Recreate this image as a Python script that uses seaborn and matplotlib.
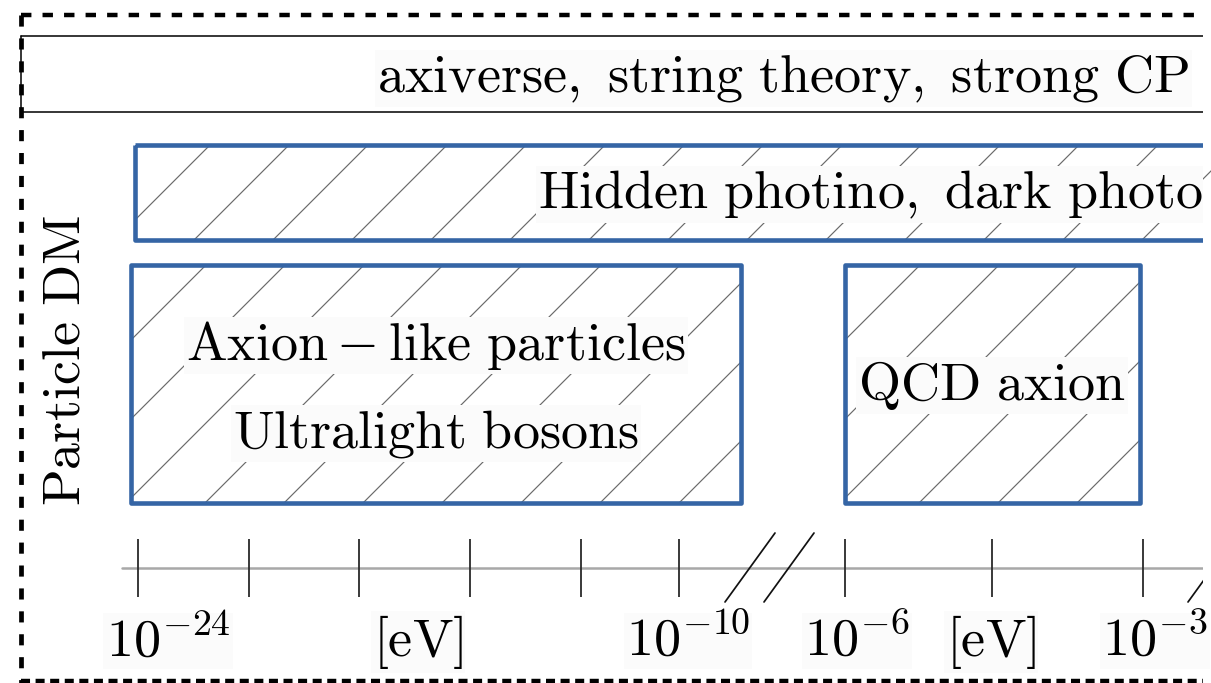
import matplotlib
matplotlib.use("Agg")
import matplotlib.pyplot as plt
from matplotlib.patches import Rectangle
import pandas as pd
import seaborn as sns

# ---- content ---------------------------------------------------------------
header_text = "axiverse, string theory, strong CP"
side_label = "Particle DM"
band_label = "Hidden photino, dark photon"
alp_lines = ["Axion-like particles", "Ultralight bosons"]
qcd_label = "QCD axion"
scale_labels = ["10^{-24}", "[\\mathrm{eV}]", "10^{-10}", "10^{-6}", "[\\mathrm{eV}]", "10^{-3}"]

# ---- layout in canvas pixels ----------------------------------------------
W, H = 1211, 683
VIS_W = 1203                      # drawing is cut off at this x
scale_label_x = [168, 418, 688, 857, 991, 1155]
tick_x = [138, 249, 359, 470, 581, 679, 845, 992, 1143]
break_centers = [750, 789, 1213]
boxes = {
    "band": (135, 145, 1400, 240),
    "alp": (131, 265, 741, 503),
    "qcd": (845, 265, 1140, 503),
}

BLUE = "#3565a5"
FS = 39

sns.set_theme(style="white")
plt.rcParams["mathtext.fontset"] = "cm"
plt.rcParams["lines.scale_dashes"] = False
plt.rcParams["text.color"] = "black"


def rm(s):
    return r"$\mathrm{" + s.replace(" ", r"\ ") + "}$"


fig = plt.figure(figsize=(W / 100, H / 100), dpi=100)
ax = fig.add_axes([0, 0, VIS_W / W, 1])
ax.set_xlim(0, VIS_W)
ax.set_ylim(H, 0)
ax.set_axis_off()

label_box = dict(facecolor="#fbfbfb", edgecolor="none", pad=1.5)

# outer dashed frame
ax.plot([21, 21], [15, H], color="black", lw=3.4, ls=(0, (8, 8.5)), solid_capstyle="butt")
ax.plot([21, VIS_W], [15, 15], color="black", lw=3.2, ls=(0, (7.5, 8)), solid_capstyle="butt")
ax.plot([21, VIS_W], [681, 681], color="black", lw=3.2, ls=(0, (6.5, 4)), solid_capstyle="butt")

# header strip
ax.plot([21, VIS_W], [36, 36], color="black", lw=1.1)
ax.plot([21, VIS_W], [112, 112], color="black", lw=1.1)
ax.plot([21, 21], [36, 112], color="black", lw=1.1)
ax.text(377, 92, rm(header_text), fontsize=FS, ha="left", va="baseline",
        clip_on=True, bbox=label_box, zorder=3)

# hatched boxes
SPACING = 79
for key, (x0, y0, x1, y1) in boxes.items():
    rect = Rectangle((x0, y0), x1 - x0, y1 - y0, fill=False, edgecolor=BLUE,
                     lw=3.3, joinstyle="round", zorder=4)
    ax.add_patch(rect)
    clip = Rectangle((x0, y0), x1 - x0, y1 - y0, transform=ax.transData)
    c = x0 + y0 + SPACING - 4
    while c < x1 + y1:
        ln, = ax.plot([c - y1, c - y0], [y1, y0], color="#6a6a6a", lw=0.85, zorder=1)
        ln.set_clip_path(clip)
        c += SPACING

ax.text(538, 208, rm(band_label), fontsize=FS, ha="left", va="baseline",
        clip_on=True, bbox=label_box, zorder=3)
ax.text(436, 360, rm(alp_lines[0]), fontsize=FS, ha="center", va="baseline",
        bbox=label_box, zorder=3)
ax.text(436, 447, rm(alp_lines[1]), fontsize=FS, ha="center", va="baseline",
        bbox=label_box, zorder=3)
ax.text(992, 400, rm(qcd_label), fontsize=FS, ha="center", va="baseline",
        bbox=label_box, zorder=3)
ax.text(65, 360, rm(side_label), fontsize=FS, ha="center", va="center",
        rotation=90)

# mass scale
axis_df = pd.DataFrame({"x": [122, VIS_W], "y": [568, 568]})
sns.lineplot(data=axis_df, x="x", y="y", ax=ax, color="#a8a8a8", lw=1.8)
ax.vlines(tick_x, 539, 597, color="#2a2a2a", lw=1.3)
for c in break_centers:
    ax.plot([c - 25, c + 25], [602, 533], color="#111111", lw=1.25)
for lab, x in zip(scale_labels, scale_label_x):
    ax.text(x, 656, "$" + lab + "$", fontsize=FS, ha="center", va="baseline",
            bbox=label_box, zorder=3)

fig.savefig("out.png", dpi=100)
